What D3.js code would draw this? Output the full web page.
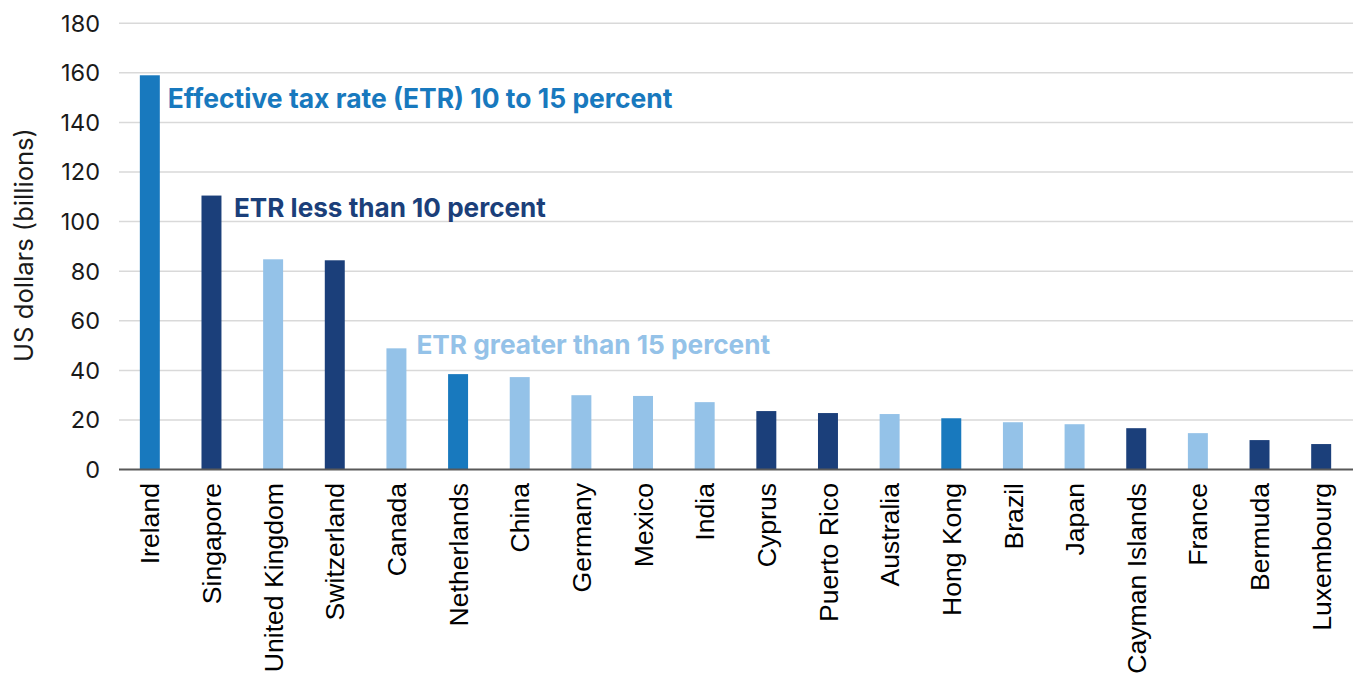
<!DOCTYPE html>
<html>
<head>
<meta charset="utf-8">
<script src="https://cdn.jsdelivr.net/npm/d3@7"></script>
<style>
  html, body { margin: 0; padding: 0; background: #ffffff; }
  svg { display: block; }
</style>
</head>
<body>
<svg id="chart" width="1353" height="677"></svg>
<script>
// ---- Data ----
const categories = ["Ireland","Singapore","United Kingdom","Switzerland","Canada","Netherlands","China","Germany","Mexico","India","Cyprus","Puerto Rico","Australia","Hong Kong","Brazil","Japan","Cayman Islands","France","Bermuda","Luxembourg"];
const values = [159, 110.5, 84.8, 84.4, 48.9, 38.5, 37.3, 30.0, 29.7, 27.2, 23.6, 22.8, 22.4, 20.7, 19.1, 18.3, 16.7, 14.7, 11.9, 10.3];
// ETR group: "mid" = 10 to 15 percent, "low" = less than 10 percent, "high" = greater than 15 percent
const groups = ["mid","low","high","low","high","mid","high","high","high","high","low","low","high","mid","high","high","low","high","low","low"];
const yTicks = [0,20,40,60,80,100,120,140,160,180];
const annotationTexts = ["Effective tax rate (ETR) 10 to 15 percent","ETR less than 10 percent","ETR greater than 15 percent"];
const annotationGroups = ["mid","low","high"];
const annotationAnchors = ["Ireland","Singapore","Canada"];
const yTitle = "US dollars (billions)";

(function () {
// ---- Styles ----
const colors = { mid: "#1879BE", low: "#1B3F7A", high: "#94C2E8" };

const svg = d3.select("#chart");
const plotLeft = 119, plotRight = 1352, plotTop = 23.2, plotBottom = 469.6;

const x = d3.scaleBand().domain(categories).range([plotLeft, plotRight]).paddingInner(0.676).paddingOuter(0.338);
const y = d3.scaleLinear().domain([0, 180]).range([plotBottom, plotTop]);

// gridlines
svg.append("g").selectAll("line").data(yTicks.filter(d => d > 0)).join("line")
  .attr("x1", plotLeft).attr("x2", 1353)
  .attr("y1", d => y(d)).attr("y2", d => y(d))
  .attr("stroke", "#d9d9d9").attr("stroke-width", 1.5);

// y tick labels
svg.append("g").selectAll("text").data(yTicks).join("text")
  .attr("x", 100).attr("y", d => y(d)).attr("dy", "0.36em")
  .attr("text-anchor", "end")
  .attr("font-family", "Inter, 'Open Sans', sans-serif")
  .attr("font-size", 23.5).attr("fill", "#1a1a1a")
  .text(d => d);

// bars
const data = categories.map((c, i) => ({ c, v: values[i], g: groups[i] }));
svg.append("g").selectAll("rect").data(data).join("rect")
  .attr("x", d => x(d.c)).attr("width", x.bandwidth())
  .attr("y", d => y(d.v)).attr("height", d => y(0) - y(d.v))
  .attr("fill", d => colors[d.g]);

// baseline
svg.append("line").attr("x1", plotLeft).attr("x2", 1353)
  .attr("y1", y(0)).attr("y2", y(0))
  .attr("stroke", "#595959").attr("stroke-width", 2);

// category labels
svg.append("g").selectAll("text").data(categories).join("text")
  .attr("transform", d => `translate(${x(d) + x.bandwidth() / 2},483) rotate(-90)`)
  .attr("text-anchor", "end").attr("dy", "0.36em")
  .attr("font-family", "'Liberation Sans', Arial, sans-serif")
  .attr("font-size", 26.6).attr("fill", "#000")
  .text(d => d);

// y axis title
const yt = svg.append("text")
  .attr("transform", `translate(33,245) rotate(-90)`)
  .attr("text-anchor", "middle")
  .attr("font-family", "Inter, 'Open Sans', sans-serif")
  .attr("font-size", 25).attr("fill", "#1a1a1a")
  .text(yTitle);
{
  const L = yt.node().getComputedTextLength();
  if (L > 0) yt.attr("font-size", 25 * 234 / L);
}

// annotations
const annLayout = [
  { xOff: 8, yVal: 145.8, len: 505 },
  { xOff: 12.5, yVal: 101.8, len: 312 },
  { xOff: 10, yVal: 46.6, len: 354 }
];
annotationTexts.forEach((t, i) => {
  const g = annotationGroups[i];
  const cat = annotationAnchors[i];
  const lay = annLayout[i];
  const el = svg.append("text")
    .attr("x", x(cat) + x.bandwidth() + lay.xOff)
    .attr("y", y(lay.yVal))
    .attr("font-family", "Inter, 'Open Sans', sans-serif")
    .attr("font-weight", 700)
    .attr("font-size", 23)
    .attr("fill", colors[g])
    .text(t);
  const L = el.node().getComputedTextLength();
  if (L > 0) el.attr("font-size", 23 * lay.len / L);
});
})();
</script>
</body>
</html>
